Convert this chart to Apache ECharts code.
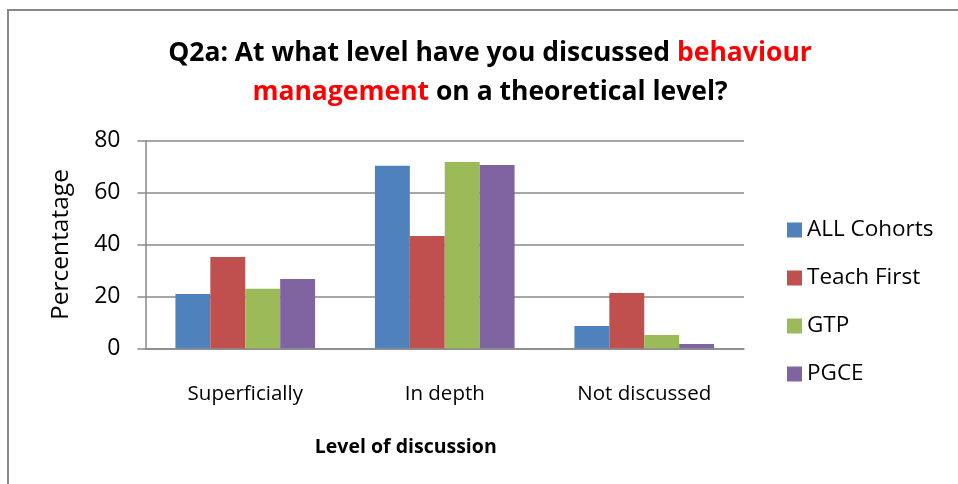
<!DOCTYPE html>
<html>
<head>
<meta charset="utf-8">
<script src="https://cdn.jsdelivr.net/npm/echarts@6/dist/echarts.min.js"></script>
<style>html,body{margin:0;padding:0;background:#fff;}#c{width:958px;height:484px;}</style>
</head>
<body>
<div id="c"></div>
<script>
const categories = ['Superficially', 'In depth', 'Not discussed'];
const seriesNames = ['ALL Cohorts', 'Teach First', 'GTP', 'PGCE'];
const allCohorts = [20.9, 70.3, 8.6];
const teachFirst = [35.2, 43.3, 21.3];
const gtp = [22.9, 71.8, 5.1];
const pgce = [26.7, 70.6, 1.7];
const yTicks = [0, 20, 40, 60, 80];

const colors = ['#4F81BD', '#C0504D', '#9BBB59', '#8064A2'];
const values = [allCohorts, teachFirst, gtp, pgce];
const FONT = 'Open Sans';

const chart = echarts.init(document.getElementById('c'));
chart.setOption({
  animation: false,
  color: colors,
  textStyle: { fontFamily: FONT },
  title: {
    text: 'Q2a: At what level have you discussed {r|behaviour}\n{r|management} on a theoretical level?',
    left: 485, top: 29, textAlign: 'center',
    textStyle: {
      fontFamily: FONT, fontSize: 26.5, fontWeight: 'bold', color: '#000', lineHeight: 39,
      rich: { r: { color: '#FF0000', fontFamily: FONT, fontSize: 26.5, fontWeight: 'bold', lineHeight: 39 } }
    }
  },
  graphic: [{
    type: 'rect', shape: { x: 8, y: 10, width: 1000, height: 600 },
    style: { fill: 'none', stroke: '#888', lineWidth: 2 }, silent: true
  }],
  legend: {
    orient: 'vertical', left: 782, top: 211, itemWidth: 15, itemHeight: 15, itemGap: 20,
    icon: 'rect',
    textStyle: { fontFamily: FONT, fontSize: 22.5, color: '#000', lineHeight: 28 },
    data: seriesNames
  },
  grid: { left: 145.5, right: 214, top: 140.7, bottom: 135.7 },
  xAxis: {
    type: 'category', data: categories,
    name: 'Level of discussion', nameLocation: 'middle', nameGap: 89,
    nameTextStyle: { fontFamily: FONT, fontSize: 19.5, fontWeight: 'bold', color: '#000', padding: [0, 78, 0, 0] },
    axisLine: { show: true, lineStyle: { color: '#888', width: 1.5 } },
    axisTick: { show: false },
    axisLabel: { fontFamily: FONT, fontSize: 20.5, color: '#000', margin: 35 }
  },
  yAxis: {
    type: 'value', min: 0, max: 80, interval: 20,
    name: 'Percentatage', nameLocation: 'middle', nameGap: 72, nameRotate: 90,
    nameTextStyle: { fontFamily: FONT, fontSize: 24.5, color: '#000' },
    axisLine: { show: true, lineStyle: { color: '#888', width: 1.5 } },
    axisTick: { show: true, inside: false, length: 8, lineStyle: { color: '#888', width: 1.5 } },
    axisLabel: { fontFamily: FONT, fontSize: 23, color: '#000', margin: 25,
      formatter: v => yTicks.includes(v) ? String(v) : '' },
    splitLine: { show: true, lineStyle: { color: '#888', width: 1.5 } }
  },
  series: seriesNames.map((n, i) => ({
    name: n, type: 'bar', data: values[i], barGap: '0%', barCategoryGap: '30%',
    itemStyle: { color: colors[i] }
  }))
});
</script>
</body>
</html>
